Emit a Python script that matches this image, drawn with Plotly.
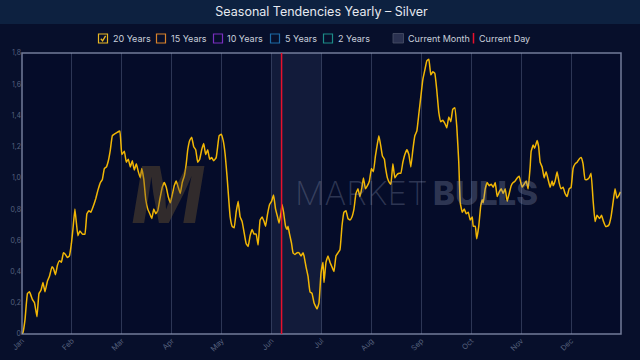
import plotly.graph_objects as go

# ---------------- data ----------------
month_labels = ["Jan", "Feb", "Mar", "Apr", "May", "Jun",
                "Jul", "Aug", "Sep", "Oct", "Nov", "Dec"]
y_tick_vals = [0, 0.2, 0.4, 0.6, 0.8, 1.0, 1.2, 1.4, 1.6, 1.8]
y_tick_text = ["0", "0,2", "0,4", "0,6", "0,8", "1,0", "1,2", "1,4", "1,6", "1,8"]

# position in months since Jan 1 (0 = Jan, 12 = end of Dec)
month_pos = [
    0.00, 0.02, 0.06, 0.11, 0.15, 0.21, 0.25, 0.30, 0.34, 0.38, 0.42, 0.46, 0.51, 0.55,
    0.60, 0.63, 0.67, 0.71, 0.75, 0.79, 0.83, 0.87, 0.91, 0.95, 0.99, 1.02, 1.06, 1.09,
    1.12, 1.16, 1.21, 1.26, 1.30, 1.34, 1.38, 1.44, 1.48, 1.52, 1.57, 1.61, 1.65, 1.69,
    1.73, 1.77, 1.81, 1.85, 1.90, 1.96,
    2.00, 2.05, 2.09, 2.13, 2.17, 2.21, 2.25, 2.29, 2.33, 2.37, 2.40, 2.44, 2.48, 2.52,
    2.56, 2.60, 2.64, 2.68, 2.72, 2.76, 2.81, 2.85, 2.89, 2.93, 2.97, 3.01, 3.05, 3.09,
    3.13, 3.17, 3.21, 3.25, 3.29, 3.32, 3.36, 3.40, 3.44, 3.48, 3.52, 3.56, 3.60, 3.64,
    3.68, 3.72, 3.76, 3.80, 3.84, 3.89, 3.95, 3.99, 4.03, 4.07, 4.11,
    4.17, 4.21, 4.25, 4.29, 4.33, 4.37, 4.41, 4.45, 4.49, 4.53, 4.57, 4.61, 4.65, 4.69,
    4.73, 4.77, 4.81, 4.85, 4.88, 4.92, 4.96, 5.00, 5.04, 5.08, 5.12, 5.15, 5.19, 5.21,
    5.24, 5.28, 5.31, 5.33, 5.36, 5.40, 5.43, 5.47, 5.51, 5.55, 5.59, 5.63, 5.65, 5.69,
    5.73, 5.77, 5.81, 5.85, 5.91, 5.95, 5.99, 6.03, 6.05, 6.09, 6.13, 6.17,
    6.21, 6.25, 6.29, 6.33, 6.37, 6.41, 6.45, 6.49, 6.53, 6.57, 6.61, 6.65, 6.69, 6.73,
    6.77, 6.81, 6.84, 6.88, 6.92, 6.96, 7.00, 7.04, 7.08, 7.12, 7.15, 7.19, 7.22, 7.26,
    7.28, 7.32, 7.36, 7.39, 7.43, 7.47, 7.51, 7.55, 7.59, 7.63, 7.67, 7.71, 7.75, 7.79,
    7.83, 7.87, 7.91, 7.95, 7.99, 8.03, 8.07, 8.11, 8.15,
    8.19, 8.23, 8.27, 8.31, 8.35, 8.39, 8.43, 8.47, 8.51, 8.55, 8.59, 8.63, 8.67, 8.71,
    8.75, 8.78, 8.82, 8.86, 8.90, 8.94, 8.98, 9.02, 9.04, 9.08, 9.11, 9.15, 9.19, 9.22,
    9.24, 9.28, 9.32, 9.36, 9.40, 9.44, 9.48, 9.52, 9.56, 9.60, 9.64, 9.68, 9.72, 9.76,
    9.80, 9.84, 9.88, 9.92, 9.96, 10.00,
    10.02, 10.06, 10.10, 10.14, 10.18, 10.20, 10.24, 10.27, 10.30, 10.32, 10.35, 10.38,
    10.42, 10.46, 10.50, 10.54, 10.58, 10.62, 10.64, 10.68, 10.72, 10.76, 10.80, 10.84,
    10.88, 10.92, 10.96, 11.00, 11.04, 11.08, 11.12, 11.16, 11.20, 11.24, 11.28, 11.32,
    11.36, 11.40, 11.44, 11.48, 11.52, 11.57, 11.61, 11.65, 11.69, 11.72, 11.76, 11.80,
    11.84, 11.88, 11.92, 11.96, 11.99,
]

silver_20y = [
    0.00, 0.01, 0.09, 0.26, 0.27, 0.22, 0.20, 0.11, 0.26, 0.28, 0.33, 0.27, 0.34, 0.37,
    0.43, 0.42, 0.38, 0.44, 0.47, 0.46, 0.52, 0.51, 0.49, 0.50, 0.58, 0.67, 0.80, 0.71,
    0.63, 0.66, 0.64, 0.64, 0.77, 0.79, 0.78, 0.83, 0.87, 0.92, 0.97, 0.99, 1.06, 1.07,
    1.11, 1.18, 1.27, 1.28, 1.29, 1.30,
    1.15, 1.17, 1.10, 1.12, 1.07, 1.11, 1.05, 1.09, 1.04, 1.00, 1.06, 0.99, 0.86, 0.80,
    0.77, 0.74, 0.80, 0.77, 0.79, 0.86, 0.94, 0.97, 0.94, 0.88, 0.84, 0.89, 0.95, 0.98,
    0.94, 0.90, 0.97, 1.01, 1.09, 1.18, 1.24, 1.26, 1.20, 1.18, 1.10, 1.12, 1.18, 1.22,
    1.15, 1.18, 1.12, 1.13, 1.11, 1.13, 1.27, 1.28, 1.24, 1.15, 1.00,
    0.75, 0.69, 0.68, 0.78, 0.85, 0.75, 0.72, 0.65, 0.58, 0.56, 0.63, 0.67, 0.64, 0.64,
    0.57, 0.73, 0.75, 0.72, 0.69, 0.77, 0.83, 0.85, 0.89, 0.80, 0.75, 0.71, 0.78, 0.83,
    0.78, 0.69, 0.67, 0.69, 0.64, 0.58, 0.52, 0.51, 0.52, 0.52, 0.50, 0.52, 0.50, 0.43,
    0.37, 0.27, 0.26, 0.20, 0.16, 0.20, 0.39, 0.46, 0.33, 0.46, 0.50, 0.46,
    0.43, 0.40, 0.50, 0.52, 0.54, 0.69, 0.78, 0.79, 0.74, 0.73, 0.75, 0.80, 0.90, 0.93,
    0.88, 0.94, 1.00, 0.93, 0.95, 0.98, 1.06, 1.04, 1.14, 1.22, 1.27, 1.20, 1.14, 1.12,
    1.07, 1.00, 0.97, 0.96, 1.09, 1.00, 1.02, 1.03, 1.03, 1.10, 1.15, 1.18, 1.15, 1.07,
    1.18, 1.27, 1.30, 1.41, 1.52, 1.63, 1.69, 1.75, 1.76,
    1.66, 1.68, 1.67, 1.56, 1.42, 1.36, 1.37, 1.35, 1.32, 1.39, 1.36, 1.44, 1.45, 1.33,
    1.10, 0.84, 0.78, 0.80, 0.77, 0.78, 0.73, 0.75, 0.69, 0.69, 0.61, 0.69, 0.82, 0.86,
    0.84, 0.93, 0.97, 0.95, 0.96, 0.94, 0.97, 0.88, 0.91, 0.93, 0.90, 0.93, 0.85, 0.90,
    0.95, 0.97, 0.98, 1.00, 1.01, 0.96,
    0.94, 0.96, 0.98, 0.93, 1.07, 1.17, 1.21, 1.19, 1.22, 1.24, 1.20, 1.10,
    1.07, 1.00, 1.04, 0.99, 0.94, 0.98, 0.95, 0.98, 1.04, 0.97, 0.93, 0.94,
    0.90, 0.88, 0.93, 0.94, 1.06, 1.09, 1.10, 1.12, 1.13, 1.09, 0.99, 0.99,
    1.00, 1.03, 0.86, 0.72, 0.76, 0.74, 0.76, 0.72, 0.69, 0.69, 0.70, 0.75,
    0.84, 0.93, 0.87, 0.89, 0.91,
]

current_month_start = 5.0   # June
current_month_end = 6.0
current_day_pos = 5.2

legend_names = ["20 Years", "15 Years", "10 Years", "5 Years", "2 Years"]
legend_colors = ["#e9b824", "#d9822b", "#7a2fc0", "#1d6aa5", "#1c8c88"]

# ---------------- layout helpers (pixel -> paper) ----------------
W, H = 640, 360
L, R, T, B = 22, 19, 53, 26
PW, PH = W - L - R, H - T - B


def px(x):
    return (x - L) / PW


def py(y):
    return (H - B - y) / PH


LINE_COLOR = "#f2b705"
FONT = "Inter"
RED = "#e8102c"

fig = go.Figure()

fig.add_trace(go.Scatter(
    x=month_pos, y=silver_20y, mode="lines",
    line=dict(color=LINE_COLOR, width=1.5, shape="spline", smoothing=0.3),
    showlegend=False, hoverinfo="skip",
))

shapes = []
# title band
shapes.append(dict(type="rect", xref="paper", yref="paper", layer="below",
                   x0=px(0), x1=px(W), y0=py(24), y1=py(0),
                   fillcolor="#0d2140", line=dict(width=0)))
# current month shading
shapes.append(dict(type="rect", xref="x", yref="paper", layer="below",
                   x0=current_month_start, x1=current_month_end, y0=0, y1=1,
                   fillcolor="rgba(70,80,120,0.22)", line=dict(width=0)))
# plot border
shapes.append(dict(type="rect", xref="paper", yref="paper",
                   x0=0, x1=1, y0=0, y1=1,
                   line=dict(color="rgba(150,160,190,0.75)", width=1.5)))
# current day line
shapes.append(dict(type="line", xref="x", yref="paper", layer="above",
                   x0=current_day_pos, x1=current_day_pos, y0=0, y1=1,
                   line=dict(color=RED, width=1.5)))

annotations = []

# legend
box_left = [98.5, 156.5, 213.5, 270.5, 323.5]
box_w = 9
ly_top, ly_bot = 34, 43
for i, (name, col) in enumerate(zip(legend_names, legend_colors)):
    x0 = box_left[i]
    shapes.append(dict(type="rect", xref="paper", yref="paper",
                       x0=px(x0), x1=px(x0 + box_w), y0=py(ly_bot), y1=py(ly_top),
                       line=dict(color=col, width=1.2), fillcolor="rgba(0,0,0,0)"))
    annotations.append(dict(xref="paper", yref="paper", x=px(x0 + box_w + 3), y=py(38.6),
                            text=name, showarrow=False, xanchor="left", yanchor="middle",
                            font=dict(family=FONT, size=9, color="#c9cfdc")))
# checkmark in first box
shapes.append(dict(type="path", xref="paper", yref="paper",
                   path=f"M {px(100.8)} {py(38.8)} L {px(102.6)} {py(40.8)} L {px(105.6)} {py(35.8)}",
                   line=dict(color=legend_colors[0], width=1.3)))
# current month legend box
shapes.append(dict(type="rect", xref="paper", yref="paper",
                   x0=px(393), x1=px(403.5), y0=py(ly_bot), y1=py(ly_top - 0.5),
                   fillcolor="#2a3150", line=dict(color="#4a5068", width=0.8)))
annotations.append(dict(xref="paper", yref="paper", x=px(406), y=py(38.6),
                        text="Current Month", showarrow=False, xanchor="left", yanchor="middle",
                        font=dict(family=FONT, size=9, color="#c9cfdc")))
# current day legend line
shapes.append(dict(type="line", xref="paper", yref="paper",
                   x0=px(473.5), x1=px(473.5), y0=py(ly_bot + 0.5), y1=py(ly_top - 1),
                   line=dict(color=RED, width=1.5)))
annotations.append(dict(xref="paper", yref="paper", x=px(476.5), y=py(38.6),
                        text="Current Day", showarrow=False, xanchor="left", yanchor="middle",
                        font=dict(family=FONT, size=9, color="#c9cfdc")))

# watermark
annotations.append(dict(xref="paper", yref="paper", x=px(430), y=py(193),
                        text="MARKET", showarrow=False, xanchor="right", yanchor="middle",
                        font=dict(family=FONT, size=33, color="rgba(150,160,190,0.28)", weight=200)))
annotations.append(dict(xref="paper", yref="paper", x=px(431), y=py(193),
                        text="BULLS", showarrow=False, xanchor="left", yanchor="middle",
                        font=dict(family=FONT, size=33, color="rgba(150,160,190,0.30)", weight=800)))
annotations.append(dict(xref="paper", yref="paper", x=px(168), y=py(194),
                        text="<i>M</i>", showarrow=False, xanchor="center", yanchor="middle",
                        font=dict(family=FONT, size=78, color="rgba(120,95,50,0.38)", weight=700)))

fig.update_layout(
    width=W, height=H,
    margin=dict(l=L, r=R, t=T, b=B, autoexpand=False),
    paper_bgcolor="#070f2b",
    plot_bgcolor="#050c29",
    title=dict(text="Seasonal Tendencies Yearly – Silver", x=0.5, xanchor="center",
               xref="paper", y=1 - 12 / H, yanchor="middle", yref="container",
               font=dict(family=FONT, size=12.5, color="#e6e9f0")),
    shapes=shapes,
    annotations=annotations,
    showlegend=False,
    xaxis=dict(range=[0, 12], tickmode="array", tickvals=list(range(12)),
               ticktext=month_labels, tickangle=-45,
               tickfont=dict(family=FONT, size=7.5, color="#56617d"),
               showgrid=True, gridcolor="rgba(120,135,170,0.35)", gridwidth=1,
               zeroline=False, showline=False, ticks="", fixedrange=True,
               automargin=False),
    yaxis=dict(range=[0, 1.8], tickmode="array", tickvals=y_tick_vals,
               ticktext=y_tick_text,
               tickfont=dict(family=FONT, size=7, color="#56617d"),
               showgrid=False, zeroline=False, showline=False, ticks="",
               fixedrange=True, automargin=False),
)

fig.write_html("out.html",
               config={"displayModeBar": False, "staticPlot": True},
               post_script="document.body.style.margin='0';document.body.style.overflow='hidden';")
